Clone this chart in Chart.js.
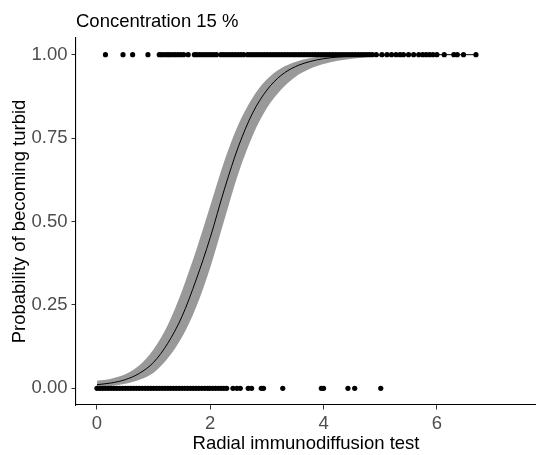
<!DOCTYPE html>
<html>
<head>
<meta charset="utf-8">
<script src="https://cdn.jsdelivr.net/npm/chart.js@4.4.0/dist/chart.umd.min.js"></script>
<style>
  html, body { margin: 0; padding: 0; background: #ffffff; }
</style>
</head>
<body>
<canvas id="chart" width="536" height="455"></canvas>
<script>
// observed outcomes: x values of samples that became turbid (y = 1) or stayed clear (y = 0)
var turbidX = [0.15, 0.46, 0.63, 0.90, 1.10, 1.14, 1.19, 1.24, 1.28, 1.33, 1.38, 1.43, 1.48, 1.53,
  1.61, 1.72, 1.76, 1.81, 1.86, 1.91, 1.96, 2.01, 2.06, 2.11, 2.19, 2.24, 2.29, 2.34, 2.39, 2.44,
  2.49, 2.54, 2.59, 2.66, 2.71, 2.76, 2.81, 2.86, 2.91, 2.96, 3.01, 3.06, 3.11, 3.16, 3.21, 3.26,
  3.31, 3.36, 3.41, 3.46, 3.51, 3.56, 3.61, 3.66, 3.71, 3.76, 3.81, 3.86, 3.91, 3.96, 4.01, 4.06,
  4.11, 4.16, 4.21, 4.26, 4.31, 4.36, 4.41, 4.46, 4.51, 4.56, 4.61, 4.66, 4.71, 4.76, 4.81, 4.86,
  4.93, 5.03, 5.12, 5.20, 5.28, 5.35, 5.41, 5.50, 5.59, 5.68, 5.75, 5.81, 5.87, 5.93, 6.00, 6.13,
  6.30, 6.36, 6.47, 6.69];
var clearX = [0.00, 0.05, 0.10, 0.15, 0.20, 0.25, 0.30, 0.35, 0.40, 0.45, 0.50, 0.55, 0.60, 0.65,
  0.70, 0.75, 0.80, 0.85, 0.90, 0.95, 1.00, 1.05, 1.10, 1.15, 1.20, 1.25, 1.30, 1.35, 1.40, 1.45,
  1.50, 1.55, 1.60, 1.65, 1.70, 1.75, 1.80, 1.85, 1.90, 1.95, 1.99, 2.04, 2.09, 2.14, 2.19, 2.24,
  2.29, 2.40, 2.47, 2.53, 2.67, 2.73, 2.90, 2.94, 3.28, 3.96, 4.00, 4.43, 4.55, 5.01];

// fitted logistic curve and its confidence band
var fitX = [0, 0.25, 0.5, 0.75, 1, 1.25, 1.5, 1.75, 2, 2.25, 2.5, 2.75, 3, 3.25, 3.5, 3.75, 4,
  4.25, 4.5, 5, 5.5, 6, 6.7];
var fitY = [0.011, 0.016, 0.026, 0.045, 0.078, 0.135, 0.215, 0.325, 0.452, 0.597, 0.726, 0.826,
  0.894, 0.938, 0.964, 0.979, 0.988, 0.993, 0.996, 0.999, 1.0, 1.0, 1.0];
var fitUpper = [0.023, 0.029, 0.042, 0.069, 0.117, 0.190, 0.292, 0.413, 0.547, 0.682, 0.792, 0.872,
  0.926, 0.959, 0.978, 0.989, 0.995, 0.997, 0.999, 1.0, 1.0, 1.0, 1.0];
var fitLower = [0.003, 0.007, 0.014, 0.026, 0.047, 0.090, 0.153, 0.243, 0.362, 0.505, 0.646, 0.758,
  0.840, 0.895, 0.933, 0.957, 0.972, 0.982, 0.988, 0.996, 0.999, 1.0, 1.0];

var xTicks = [0, 2, 4, 6];
var yTicks = [0, 0.25, 0.5, 0.75, 1];

var fontFamily = '"Liberation Sans", Arial, sans-serif';

function pairs(xs, ys) {
  return xs.map(function (x, i) {
    return {x: x, y: Array.isArray(ys) ? ys[i] : ys};
  });
}

var ctx = document.getElementById('chart');
new Chart(ctx, {
  type: 'line',
  data: {
    datasets: [
      {
        label: 'lower',
        data: pairs(fitX, fitLower),
        borderWidth: 0,
        pointRadius: 0,
        fill: false,
        cubicInterpolationMode: 'monotone',
        order: 3
      },
      {
        label: 'upper',
        data: pairs(fitX, fitUpper),
        borderWidth: 0,
        pointRadius: 0,
        backgroundColor: 'rgb(153, 153, 153)',
        fill: '-1',
        cubicInterpolationMode: 'monotone',
        order: 2
      },
      {
        label: 'fit',
        data: pairs(fitX, fitY),
        borderColor: '#000000',
        borderWidth: 1,
        pointRadius: 0,
        fill: false,
        cubicInterpolationMode: 'monotone',
        order: 1
      },
      {
        label: 'turbid',
        data: pairs(turbidX, 1),
        showLine: false,
        pointRadius: 2.6,
        pointBorderWidth: 0,
        pointBackgroundColor: '#000000',
        order: 0
      },
      {
        label: 'clear',
        data: pairs(clearX, 0),
        showLine: false,
        pointRadius: 2.6,
        pointBorderWidth: 0,
        pointBackgroundColor: '#000000',
        order: 0
      }
    ]
  },
  options: {
    responsive: false,
    animation: false,
    layout: {padding: 0, autoPadding: false},
    plugins: {
      legend: {display: false},
      tooltip: {enabled: false},
      title: {
        display: true,
        text: 'Concentration 15 %',
        align: 'start',
        fullSize: false,
        color: '#000000',
        font: {family: fontFamily, size: 18.5, weight: 'normal'},
        padding: {top: 10.5, bottom: 5.3}
      }
    },
    scales: {
      x: {
        type: 'linear',
        min: -0.37,
        max: 7.75,
        afterBuildTicks: function (axis) {
          axis.ticks = xTicks.map(function (v) { return {value: v}; });
        },
        afterFit: function (axis) {
          axis.height = 50;
          axis.paddingLeft = 0;
          axis.paddingRight = 0;
        },
        ticks: {
          color: '#4D4D4D',
          font: {family: fontFamily, size: 18.5},
          padding: 3,
          maxRotation: 0
        },
        grid: {drawOnChartArea: false, tickLength: 4.5, tickColor: '#333333', tickWidth: 1},
        border: {display: true, color: '#000000', width: 1.1},
        title: {
          display: true,
          text: 'Radial immunodiffusion test',
          color: '#000000',
          font: {family: fontFamily, size: 18.5},
          padding: {top: 0, bottom: 0}
        }
      },
      y: {
        min: -0.05,
        max: 1.05,
        afterBuildTicks: function (axis) {
          axis.ticks = yTicks.map(function (v) { return {value: v}; });
        },
        afterFit: function (axis) {
          axis.width = 76;
          axis.paddingTop = 0;
          axis.paddingBottom = 0;
        },
        ticks: {
          color: '#4D4D4D',
          font: {family: fontFamily, size: 18.5},
          padding: 4,
          callback: function (v) { return v.toFixed(2); }
        },
        grid: {drawOnChartArea: false, tickLength: 4.5, tickColor: '#333333', tickWidth: 1},
        border: {display: true, color: '#000000', width: 1.1},
        title: {
          display: true,
          text: 'Probability of becoming turbid',
          color: '#000000',
          font: {family: fontFamily, size: 18.5},
          padding: {top: 9, bottom: 0}
        }
      }
    }
  }
});
</script>
</body>
</html>
